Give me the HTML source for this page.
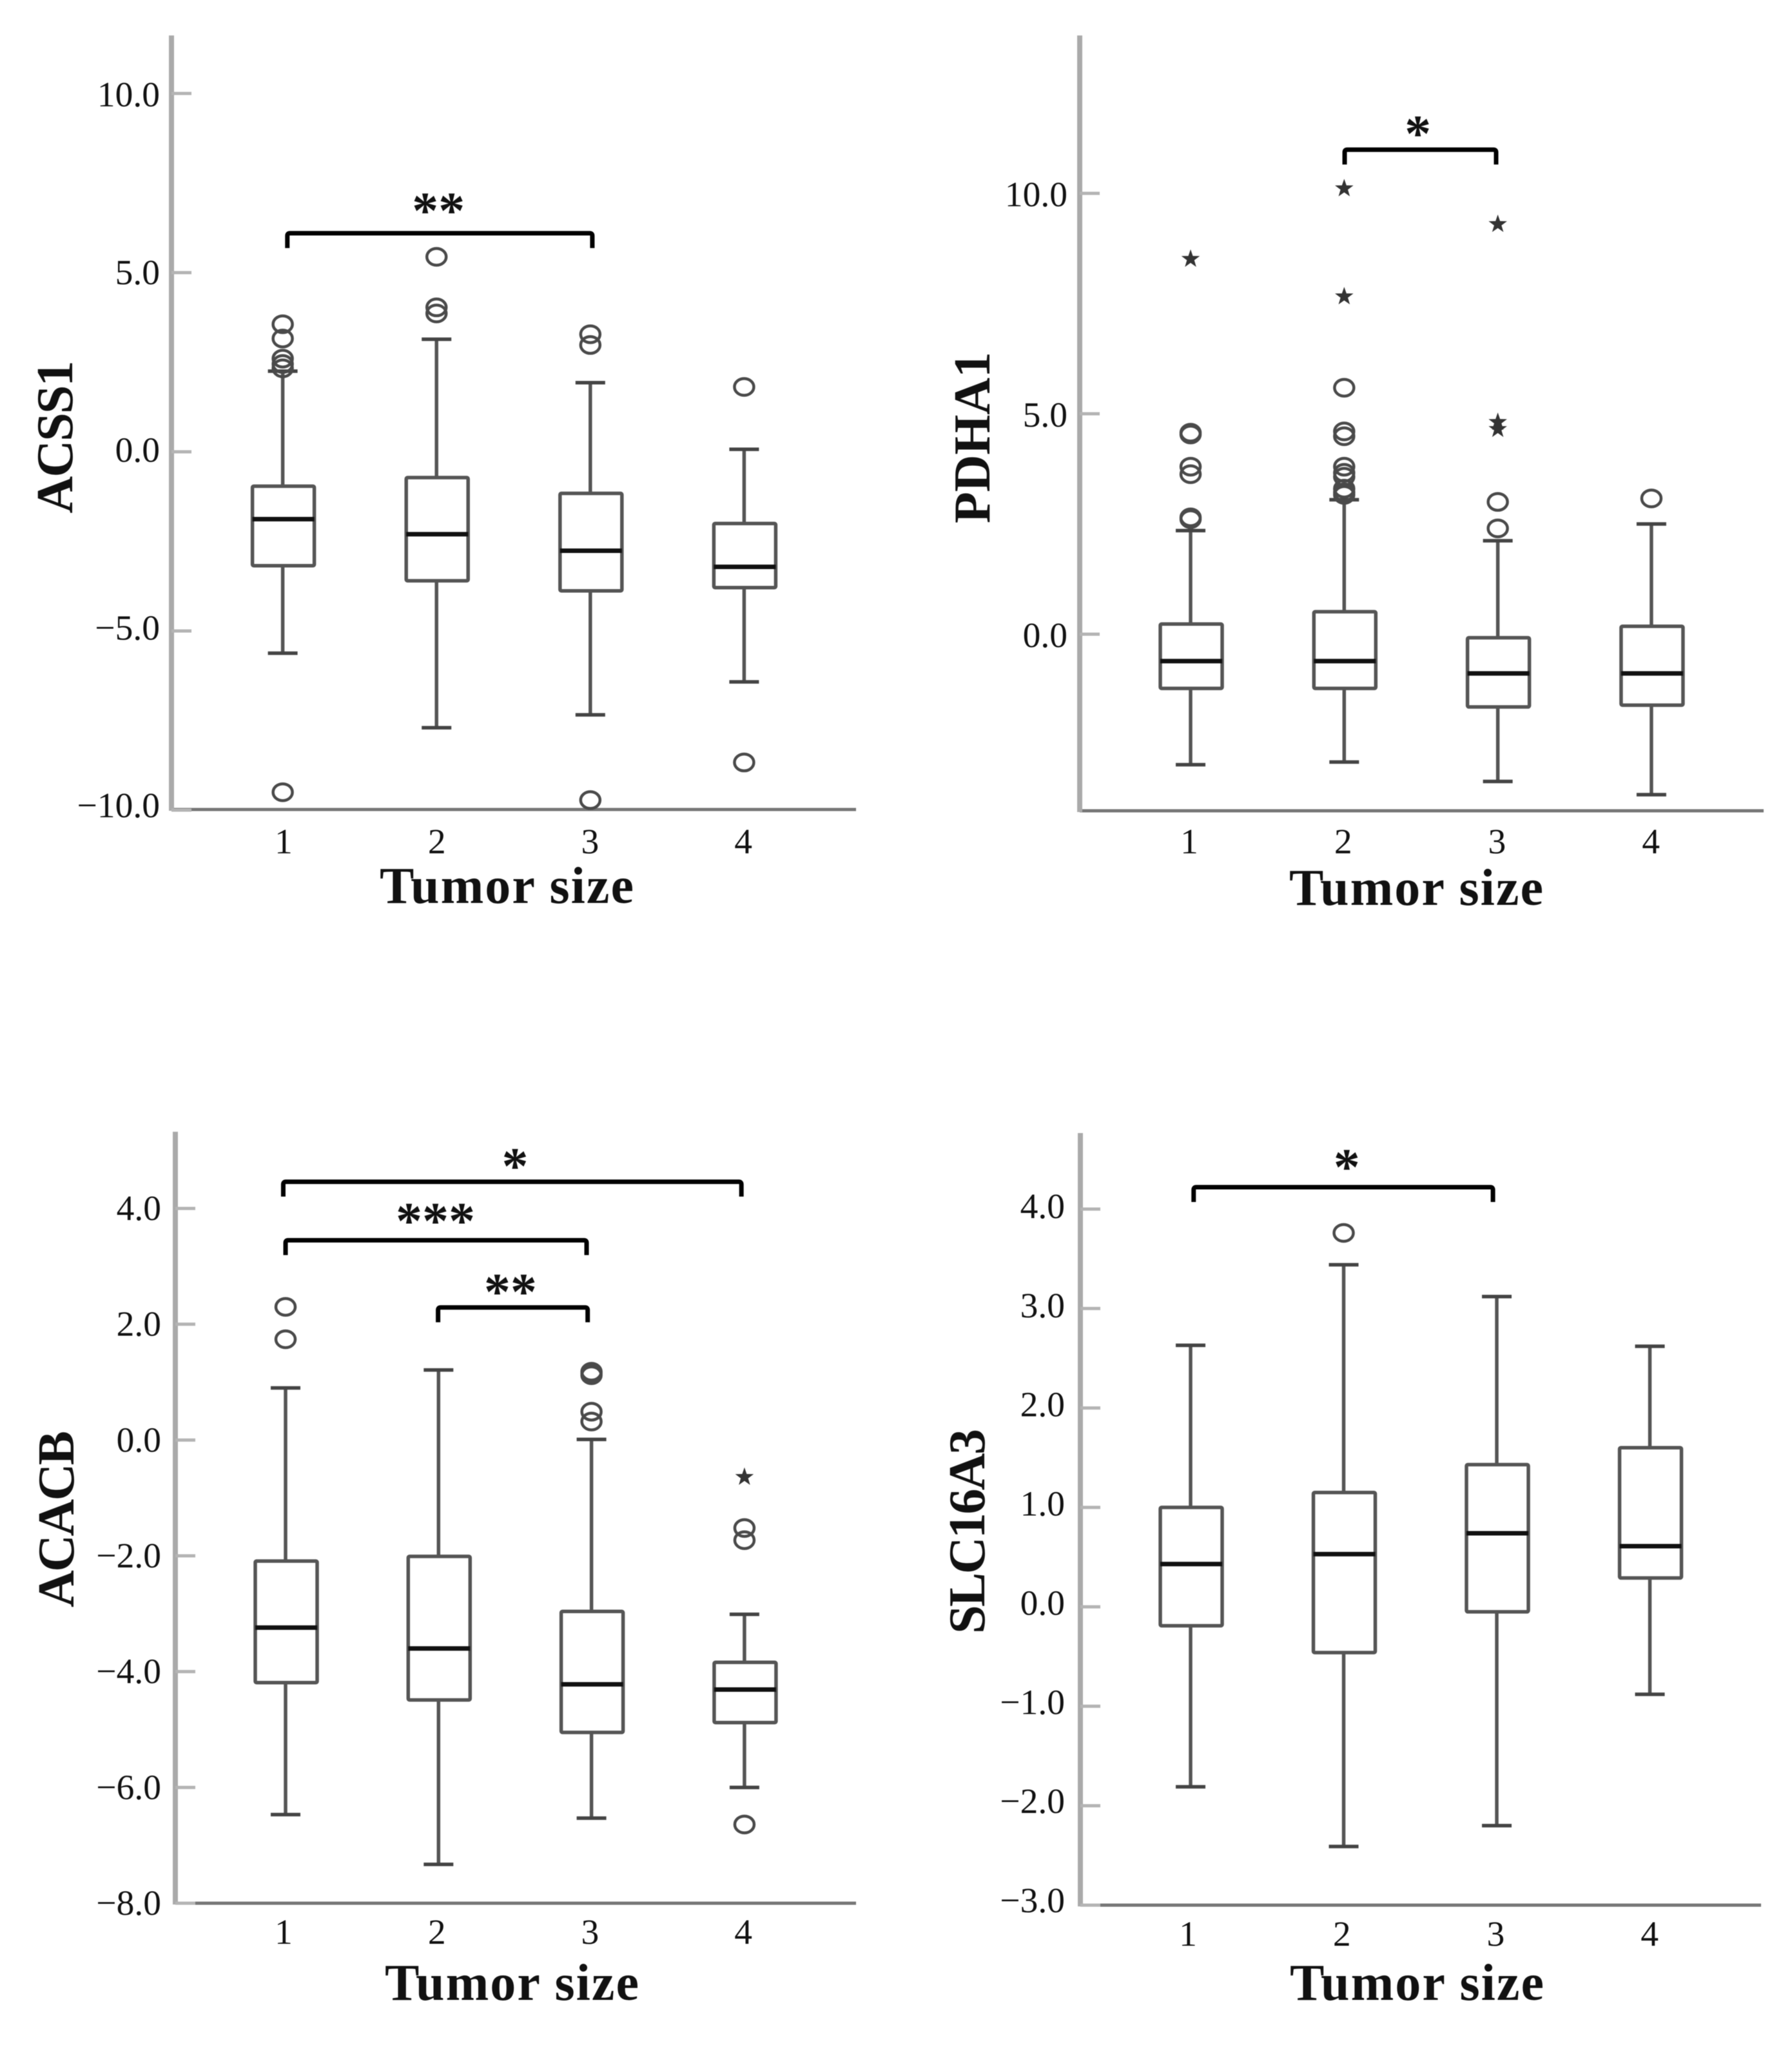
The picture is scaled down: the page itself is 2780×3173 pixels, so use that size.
<!DOCTYPE html>
<html lang="en">
<head>
<meta charset="utf-8">
<title>Tumor size boxplots</title>
<style>
html,body{margin:0;padding:0;background:#fff;}
svg{display:block;filter:blur(0.6px);}
text{font-family:"Liberation Serif",serif;fill:#111;}
.title{font-weight:bold;font-size:80px;}
.ytitle{font-weight:bold;font-size:80px;}
.tick{font-size:55.5px;}
.sig{font-weight:bold;font-size:82px;}
</style>
</head>
<body>
<svg id="figure" xmlns="http://www.w3.org/2000/svg" width="2780" height="3173" viewBox="0 0 2780 3173">
  <rect width="2780" height="3173" fill="#ffffff"/>
  <g id="panel-acss1">
    <text class="ytitle" transform="translate(112,678) rotate(-90)" text-anchor="middle" textLength="237" lengthAdjust="spacing">ACSS1</text>
    <text class="title" x="786" y="1401" text-anchor="middle" textLength="394" lengthAdjust="spacing">Tumor size</text>
  </g>
  <g id="panel-pdha1">
    <text class="ytitle" transform="translate(1535,679) rotate(-90)" text-anchor="middle" textLength="266" lengthAdjust="spacing">PDHA1</text>
    <text class="title" x="2197" y="1404" text-anchor="middle" textLength="394" lengthAdjust="spacing">Tumor size</text>
  </g>
  <g id="panel-acacb">
    <text class="ytitle" transform="translate(114,2357) rotate(-90)" text-anchor="middle" textLength="274" lengthAdjust="spacing">ACACB</text>
    <text class="title" x="794" y="3103" text-anchor="middle" textLength="394" lengthAdjust="spacing">Tumor size</text>
  </g>
  <g id="panel-slc16a3">
    <text class="ytitle" transform="translate(1527,2376) rotate(-90)" text-anchor="middle" textLength="318" lengthAdjust="spacing">SLC16A3</text>
    <text class="title" x="2198" y="3103" text-anchor="middle" textLength="394" lengthAdjust="spacing">Tumor size</text>
  </g>
</svg>
<script>
// Shared categories
const categories = ["1", "2", "3", "4"];

// ACSS1
const acss1Ticks = [10, 5, 0, -5, -10];
const acss1TickLabels = ["10.0", "5.0", "0.0", "\u22125.0", "\u221210.0"];
const acss1WhiskerHigh = [2.25, 3.14, 1.93, 0.07];
const acss1Q3 = [-0.96, -0.72, -1.16, -2.0];
const acss1Median = [-1.88, -2.3, -2.76, -3.21];
const acss1Q1 = [-3.18, -3.6, -3.88, -3.79];
const acss1WhiskerLow = [-5.62, -7.7, -7.34, -6.42];
const acss1Outliers = [[3.56, 3.16, 2.6, 2.45, 2.33, -9.5], [5.44, 4.03, 3.86], [3.28, 2.98, -9.72], [1.81, -8.67]];
const acss1Extremes = [[], [], [], []];
const acss1Brackets = [{from: 1.03, to: 3.013, value: 6.1, stars: "**", at: 2.012, dy: -8}];

// PDHA1
const pdha1Ticks = [10, 5, 0];
const pdha1TickLabels = ["10.0", "5.0", "0.0"];
const pdha1WhiskerHigh = [2.35, 3.05, 2.12, 2.5];
const pdha1Q3 = [0.23, 0.51, -0.08, 0.18];
const pdha1Median = [-0.61, -0.61, -0.89, -0.89];
const pdha1Q1 = [-1.23, -1.23, -1.65, -1.61];
const pdha1WhiskerLow = [-2.96, -2.9, -3.34, -3.64];
const pdha1Outliers = [[4.57, 4.53, 3.8, 3.63, 2.65, 2.61], [5.59, 4.6, 4.49, 3.8, 3.66, 3.57, 3.3, 3.22, 3.16], [3.0, 2.4], [3.08]];
const pdha1Extremes = [[8.51], [10.11, 7.66], [9.3, 4.81, 4.65], []];
const pdha1Brackets = [{from: 2.003, to: 2.989, value: 10.99, stars: "*", at: 2.48, dy: 2}];

// ACACB
const acacbTicks = [4, 2, 0, -2, -4, -6, -8];
const acacbTickLabels = ["4.0", "2.0", "0.0", "\u22122.0", "\u22124.0", "\u22126.0", "\u22128.0"];
const acacbWhiskerHigh = [0.9, 1.21, 0.01, -3.01];
const acacbQ3 = [-2.09, -2.01, -2.96, -3.84];
const acacbMedian = [-3.24, -3.6, -4.22, -4.31];
const acacbQ1 = [-4.19, -4.49, -5.05, -4.88];
const acacbWhiskerLow = [-6.47, -7.33, -6.53, -6.0];
const acacbOutliers = [[2.3, 1.74], [], [1.18, 1.15, 1.12, 0.49, 0.32], [-1.52, -1.73, -6.64]];
const acacbExtremes = [[], [], [], [-0.64]];
const acacbBrackets = [
  {from: 0.985, to: 3.98, value: 4.46, stars: "*", at: 2.50, dy: 3},
  {from: 1.0, to: 2.968, value: 3.45, stars: "***", at: 1.98, dy: -3},
  {from: 1.997, to: 2.975, value: 2.29, stars: "**", at: 2.47, dy: 3}
];

// SLC16A3
const slcTicks = [4, 3, 2, 1, 0, -1, -2, -3];
const slcTickLabels = ["4.0", "3.0", "2.0", "1.0", "0.0", "\u22121.0", "\u22122.0", "\u22123.0"];
const slcWhiskerHigh = [2.63, 3.44, 3.12, 2.62];
const slcQ3 = [1.0, 1.15, 1.43, 1.6];
const slcMedian = [0.43, 0.53, 0.74, 0.61];
const slcQ1 = [-0.19, -0.46, -0.05, 0.29];
const slcWhiskerLow = [-1.81, -2.41, -2.2, -0.88];
const slcOutliers = [[], [3.76], [], []];
const slcExtremes = [[], [], [], []];
const slcBrackets = [{from: 1.02, to: 2.975, value: 4.22, stars: "*", at: 2.02, dy: -4}];

const panels = [
  {id: "panel-acss1", name: "acss1", ticks: acss1Ticks, labels: acss1TickLabels,
   hi: acss1WhiskerHigh, q3: acss1Q3, med: acss1Median, q1: acss1Q1, lo: acss1WhiskerLow,
   out: acss1Outliers, ext: acss1Extremes, brackets: acss1Brackets,
   axisX: 266, top: 55, bottom: 1256, right: 1328, labelRight: 248,
   dom: [-10, 10], rng: [1257, 145], lblRng: [1268, 165],
   cat1: 438.6, step: 238.6, catLabel1: 440, catLabelStep: 237.7, catBase: 1324, capW: 46},
  {id: "panel-pdha1", name: "pdha1", ticks: pdha1Ticks, labels: pdha1TickLabels,
   hi: pdha1WhiskerHigh, q3: pdha1Q3, med: pdha1Median, q1: pdha1Q1, lo: pdha1WhiskerLow,
   out: pdha1Outliers, ext: pdha1Extremes, brackets: pdha1Brackets,
   axisX: 1675, top: 55, bottom: 1258, right: 2736, labelRight: 1656,
   dom: [0, 10], rng: [984, 300], lblRng: [1004, 320],
   cat1: 1847, step: 238.3, catLabel1: 1845, catLabelStep: 238.7, catBase: 1324, capW: 46},
  {id: "panel-acacb", name: "acacb", ticks: acacbTicks, labels: acacbTickLabels,
   hi: acacbWhiskerHigh, q3: acacbQ3, med: acacbMedian, q1: acacbQ1, lo: acacbWhiskerLow,
   out: acacbOutliers, ext: acacbExtremes, brackets: acacbBrackets,
   axisX: 272, top: 1756, bottom: 2953, right: 1328, labelRight: 250,
   dom: [-8, 4], rng: [2953, 1875], lblRng: [2971, 1893],
   cat1: 443, step: 237.3, catLabel1: 440, catLabelStep: 237.7, catBase: 3016, capW: 46},
  {id: "panel-slc16a3", name: "slc16a3", ticks: slcTicks, labels: slcTickLabels,
   hi: slcWhiskerHigh, q3: slcQ3, med: slcMedian, q1: slcQ1, lo: slcWhiskerLow,
   out: slcOutliers, ext: slcExtremes, brackets: slcBrackets,
   axisX: 1676, top: 1758, bottom: 2956, right: 2732, labelRight: 1652,
   dom: [-3, 4], rng: [2956, 1876], lblRng: [2967, 1890],
   cat1: 1847, step: 237.5, catLabel1: 1843, catLabelStep: 238.7, catBase: 3019, capW: 46}
];

const NS = "http://www.w3.org/2000/svg";
function make(parent, tag, attrs, text) {
  const el = document.createElementNS(NS, tag);
  for (const k in attrs) el.setAttribute(k, attrs[k]);
  if (text !== undefined) el.textContent = text;
  parent.appendChild(el);
  return el;
}
function linear(dom, rng) {
  return function (v) {
    return rng[0] + (v - dom[0]) * (rng[1] - rng[0]) / (dom[1] - dom[0]);
  };
}
function starPoints(cx, cy, R, r) {
  const pts = [];
  for (let i = 0; i < 10; i++) {
    const a = -Math.PI / 2 + i * Math.PI / 5;
    const rad = i % 2 === 0 ? R : r;
    pts.push((cx + rad * Math.cos(a)).toFixed(1) + "," + (cy + rad * Math.sin(a)).toFixed(1));
  }
  return pts.join(" ");
}

panels.forEach(function (p) {
  const g = document.getElementById(p.id);
  const y = linear(p.dom, p.rng);
  const yLabel = linear(p.dom, p.lblRng);
  const x = function (c) { return p.cat1 + (c - 1) * p.step; };
  const xLabel = function (c) { return p.catLabel1 + (c - 1) * p.catLabelStep; };

  const xAxis = make(g, "line", {x1: p.axisX, x2: p.right, y1: p.bottom, y2: p.bottom, stroke: "#777", "stroke-width": 5});
  
  
  const yAxis = make(g, "line", {x1: p.axisX, x2: p.axisX, y1: p.top, y2: p.bottom + 2, stroke: "#aaa", "stroke-width": 8});
  
  

  p.ticks.forEach(function (t, i) {
    const tick = make(g, "line", {x1: p.axisX, x2: p.axisX + 31, y1: y(t), y2: y(t), stroke: "#b4b4b4", "stroke-width": 5});
    
    
    const lab = make(g, "text", {"class": "tick", x: p.labelRight, y: yLabel(t), "text-anchor": "end"}, p.labels[i]);
    
    
  });

  categories.forEach(function (c, i) {
    const cx = x(i + 1);
    const whisker = make(g, "line", {x1: cx, x2: cx, y1: y(p.hi[i]), y2: y(p.lo[i]), stroke: "#555", "stroke-width": 5.5});
    
    
    const capHi = make(g, "line", {x1: cx - p.capW / 2, x2: cx + p.capW / 2, y1: y(p.hi[i]), y2: y(p.hi[i]), stroke: "#444", "stroke-width": 5.5});
    
    
    const capLo = make(g, "line", {x1: cx - p.capW / 2, x2: cx + p.capW / 2, y1: y(p.lo[i]), y2: y(p.lo[i]), stroke: "#444", "stroke-width": 5.5});
    
    
    const box = make(g, "rect", {x: cx - 47, width: 96, y: y(p.q3[i]), height: y(p.q1[i]) - y(p.q3[i]), fill: "#fff", stroke: "#555", "stroke-width": 5.5, rx: 2});
    
    
    const med = make(g, "line", {x1: cx - 47, x2: cx + 49, y1: y(p.med[i]), y2: y(p.med[i]), stroke: "#111", "stroke-width": 7});
    
    

    p.out[i].forEach(function (v) {
      const o = make(g, "ellipse", {cx: cx, cy: y(v), rx: 15, ry: 13, fill: "none", stroke: "#4a4a4a", "stroke-width": 4.5});
      
      
    });
    p.ext[i].forEach(function (v) {
      const s = make(g, "polygon", {points: starPoints(cx, y(v), 15, 6), fill: "#333"});
      
      
    });

    const catLab = make(g, "text", {"class": "tick", x: xLabel(i + 1), y: p.catBase, "text-anchor": "middle"}, c);
    
    
  });

  p.brackets.forEach(function (b) {
    const x0 = x(b.from), x1 = x(b.to), by = y(b.value), drop = 23;
    const d = "M" + x0 + " " + (by + drop) + "V" + (by + 4) + "Q" + x0 + " " + by + " " + (x0 + 4) + " " + by +
              "H" + (x1 - 4) + "Q" + x1 + " " + by + " " + x1 + " " + (by + 4) + "V" + (by + drop);
    const path = make(g, "path", {d: d, fill: "none", stroke: "#000", "stroke-width": 7});
    
    
    const star = make(g, "text", {"class": "sig", x: x(b.at), y: by + b.dy, "text-anchor": "middle"}, b.stars);
    
    
  });
});
</script>
</body>
</html>
